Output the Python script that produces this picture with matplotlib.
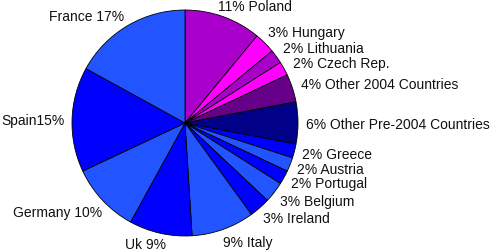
import matplotlib
matplotlib.use("Agg")
import matplotlib.pyplot as plt

countries = ["Poland", "Hungary", "Lithuania", "Czech Rep.", "Other 2004 Countries",
             "Other Pre-2004 Countries", "Greece", "Austria", "Portugal", "Belgium",
             "Ireland", "Italy", "Uk", "Germany", "Spain", "France"]
shares = [11, 3, 2, 2, 4, 6, 2, 2, 2, 3, 3, 9, 9, 10, 15, 17]
labels = ["11% Poland", "3% Hungary", "2% Lithuania", "2% Czech Rep.",
          "4% Other 2004 Countries", "6% Other Pre-2004 Countries", "2% Greece",
          "2% Austria", "2% Portugal", "3% Belgium", "3% Ireland", "9% Italy",
          "Uk 9%", "Germany 10%", "Spain15%", "France 17%"]

colors = ["#AA00CC", "#FF00FF", "#AA00CC", "#FF00FF", "#660088", "#000088",
          "#0000FF", "#2255FF", "#0000FF", "#2255FF", "#0000FF", "#2255FF",
          "#0000FF", "#2255FF", "#0000FF", "#2255FF"]

# label anchor points in pixel space (x, y from top), and alignment
label_pos = [(218, 7), (268, 33), (283, 49), (293, 64), (301, 85), (306, 125),
             (302, 155), (297, 170), (291, 184), (280, 202), (263, 219), (223, 243),
             (125, 245), (102, 213), (65, 121), (124, 17)]
label_ha = ["left"] * 13 + ["right", "right", "right"]

W, H = 499, 252
fig = plt.figure(figsize=(W / 100, H / 100), dpi=100)
ax = fig.add_axes([0, 0, 1, 1])
ax.set_xlim(0, W)
ax.set_ylim(0, H)
ax.set_aspect("equal")
ax.axis("off")

ax.pie(shares, colors=colors, startangle=90, counterclock=False,
       center=(185, H - 123), radius=113,
       wedgeprops=dict(edgecolor="black", linewidth=0.6))
ax.set_xlim(0, W)
ax.set_ylim(0, H)

for lab, (x, y), ha in zip(labels, label_pos, label_ha):
    ax.text(x, H - y, lab, ha=ha, va="center", fontsize=10,
            family="Liberation Sans", color="#111111")

fig.savefig("out.png", dpi=100)
